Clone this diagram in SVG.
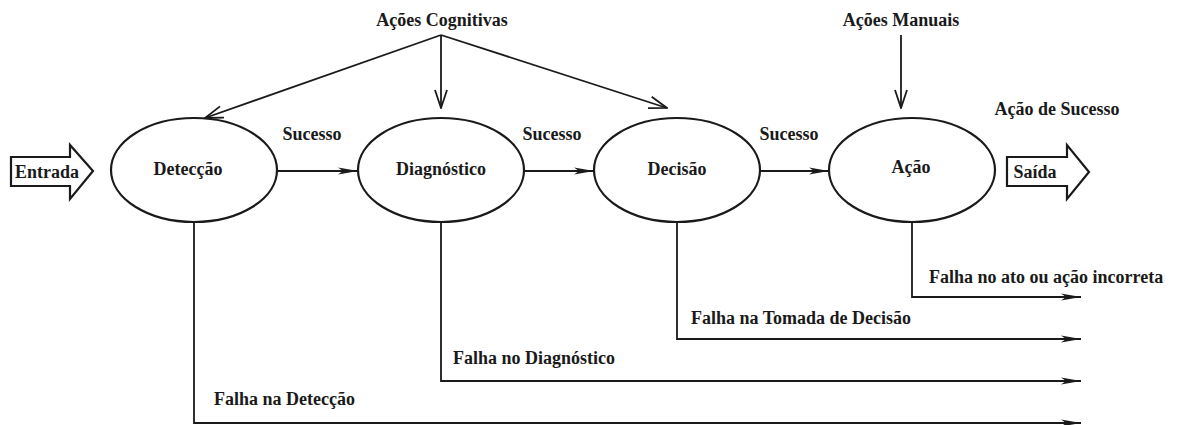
<svg xmlns="http://www.w3.org/2000/svg" width="1178" height="425" viewBox="0 0 1178 425">
<style>
text{font-family:"Liberation Serif","Times New Roman",serif;font-weight:bold;font-size:18px;fill:#1a1a1a}
.mid{text-anchor:middle}
.node{fill:#fff;stroke:#1a1a1a;stroke-width:2.2}
.blk{fill:#fff;stroke:#1a1a1a;stroke-width:2.2;stroke-linejoin:miter}
.ln{fill:none;stroke:#1a1a1a;stroke-width:1.8}
</style>
<defs>
<marker id="fill" viewBox="0 0 20 10" refX="20" refY="5" markerWidth="20" markerHeight="10" markerUnits="userSpaceOnUse" orient="auto">
<path d="M0,1.5 L20,5 L0,8.5 L5,5 Z" fill="#1a1a1a"/>
</marker>
<marker id="open" viewBox="0 0 20 14" refX="19" refY="7" markerWidth="20" markerHeight="14" markerUnits="userSpaceOnUse" orient="auto">
<path d="M1,1 L19,7 L1,13" fill="none" stroke="#1a1a1a" stroke-width="1.8"/>
</marker>
</defs>
<g id="connectors">
<line class="ln" x1="277" y1="171" x2="358" y2="171" marker-end="url(#fill)"/>
<line class="ln" x1="524" y1="171" x2="594" y2="171" marker-end="url(#fill)"/>
<line class="ln" x1="760" y1="171" x2="829" y2="171" marker-end="url(#fill)"/>
<line class="ln" x1="441" y1="35" x2="205" y2="118" marker-end="url(#open)"/>
<line class="ln" x1="441" y1="35" x2="441" y2="108" marker-end="url(#open)"/>
<line class="ln" x1="441" y1="35" x2="667" y2="108" marker-end="url(#open)"/>
<line class="ln" x1="901" y1="35" x2="901" y2="108" marker-end="url(#open)"/>
<polyline class="ln" points="194,223 194,423 1081,423" marker-end="url(#fill)"/>
<polyline class="ln" points="441,223 441,381 1081,381" marker-end="url(#fill)"/>
<polyline class="ln" points="677,223 677,339 1081,339" marker-end="url(#fill)"/>
<polyline class="ln" points="912,223 912,297 1081,297" marker-end="url(#fill)"/>
<text x="312" y="140" class="mid">Sucesso</text>
<text x="552" y="140" class="mid">Sucesso</text>
<text x="789" y="140" class="mid">Sucesso</text>
<text x="214" y="405">Falha na Detecção</text>
<text x="453" y="364">Falha no Diagnóstico</text>
<text x="691" y="324">Falha na Tomada de Decisão</text>
<text x="929" y="283">Falha no ato ou ação incorreta</text>
</g>
<g id="acoes-cognitivas"><text x="442" y="26" class="mid">Ações Cognitivas</text></g>
<g id="acoes-manuais"><text x="901" y="26" class="mid">Ações Manuais</text></g>
<g id="acao-sucesso"><text x="1057" y="115" class="mid">Ação de Sucesso</text></g>
<g id="entrada">
<polygon class="blk" points="11,157 70,157 70,145 93,171 70,199 70,186 11,186"/>
<text x="47" y="178" class="mid">Entrada</text>
</g>
<g id="deteccao">
<ellipse class="node" cx="194" cy="170" rx="83" ry="52"/>
<text x="188" y="175" class="mid">Detecção</text>
</g>
<g id="diagnostico">
<ellipse class="node" cx="441" cy="170" rx="83" ry="52"/>
<text x="441" y="175" class="mid">Diagnóstico</text>
</g>
<g id="decisao">
<ellipse class="node" cx="677" cy="170" rx="83" ry="52"/>
<text x="677" y="175" class="mid">Decisão</text>
</g>
<g id="acao">
<ellipse class="node" cx="912" cy="170" rx="83" ry="52"/>
<text x="911" y="173" class="mid">Ação</text>
</g>
<g id="saida">
<polygon class="blk" points="1007,157 1067,157 1067,145 1089,172 1067,199 1067,186 1007,186"/>
<text x="1035" y="178" class="mid">Saída</text>
</g>
</svg>
